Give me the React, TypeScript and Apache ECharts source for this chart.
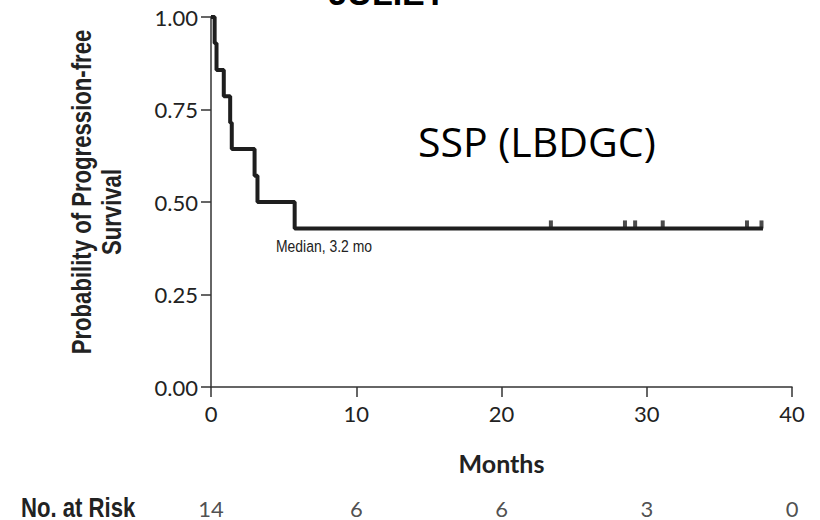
import React, { useEffect, useRef } from "react";
import * as echarts from "echarts";

// Kaplan-Meier steps (months, survival probability)
const kmTimes = [0, 0.25, 0.38, 0.88, 1.32, 1.43, 3.0, 3.2, 5.76, 38.0];
const kmSurvival = [1.0, 0.929, 0.857, 0.786, 0.714, 0.643, 0.571, 0.5, 0.4286, 0.4286];
// censored observations
const censorTimes = [23.4, 28.5, 29.2, 31.1, 36.9, 37.9];
const censorSurvival = [0.4286, 0.4286, 0.4286, 0.4286, 0.4286, 0.4286];
// number at risk table
const riskMonths = [0, 10, 20, 30, 40];
const riskCounts = [14, 6, 6, 3, 0];
const xTicks = [0, 10, 20, 30, 40];
const yTicks = [0, 0.25, 0.5, 0.75, 1.0];

const LATO = "Lato, 'Liberation Sans', sans-serif";
const LIB = "'Liberation Sans', Arial, sans-serif";
const NARROW_SCALE = 0.82;

export default function App() {
  const ref = useRef<HTMLDivElement>(null);
  useEffect(() => {
    if (!ref.current) return;
    const chart = echarts.init(ref.current, undefined, { renderer: "svg" });
    const axisColor = "#333";
    chart.setOption({
      animation: false,
      backgroundColor: "#fff",
      grid: [
        { left: 211, right: 28, top: 17, bottom: 133 },
        { left: 211, right: 28, top: 498, height: 20 },
      ],
      xAxis: [
        {
          type: "value",
          gridIndex: 0,
          min: xTicks[0],
          max: xTicks[xTicks.length - 1],
          interval: 10,
          axisLine: { show: true, onZero: false, lineStyle: { color: axisColor, width: 1.5 } },
          axisTick: { show: true, length: 10, lineStyle: { color: axisColor, width: 1.5 } },
          splitLine: { show: false },
          axisLabel: { fontFamily: LATO, fontSize: 22, color: "#222", margin: 15 },
          name: "Months",
          nameLocation: "middle",
          nameGap: 63,
          nameTextStyle: { fontFamily: LATO, fontSize: 25, fontWeight: "bold", color: "#222" },
        },
        {
          type: "value",
          gridIndex: 1,
          min: 0,
          max: 40,
          show: false,
        },
      ],
      yAxis: [
        {
          type: "value",
          gridIndex: 0,
          min: yTicks[0],
          max: yTicks[yTicks.length - 1],
          interval: 0.25,
          axisLine: { show: true, lineStyle: { color: axisColor, width: 1.5 } },
          axisTick: { show: true, length: 10, lineStyle: { color: axisColor, width: 1.5 } },
          splitLine: { show: false },
          axisLabel: {
            fontFamily: LATO,
            fontSize: 22,
            color: "#222",
            margin: 13,
            formatter: (v: number) => v.toFixed(2),
          },
        },
        { type: "value", gridIndex: 1, min: -1, max: 1, show: false },
      ],
      series: [
        {
          type: "line",
          xAxisIndex: 0,
          yAxisIndex: 0,
          step: "end",
          data: kmTimes.map((t, i) => [t, kmSurvival[i]]),
          showSymbol: false,
          lineStyle: { color: "#1e1e1e", width: 4 },
          z: 3,
        },
        {
          type: "scatter",
          xAxisIndex: 0,
          yAxisIndex: 0,
          data: censorTimes.map((t, i) => [t, censorSurvival[i]]),
          symbol: "rect",
          symbolSize: [4, 8],
          symbolOffset: [0, -4],
          itemStyle: { color: "#1e1e1e" },
          z: 4,
        },
        {
          type: "scatter",
          xAxisIndex: 1,
          yAxisIndex: 1,
          data: riskMonths.map((m, i) => [m, 0, riskCounts[i]]),
          symbolSize: 0,
          label: {
            show: true,
            position: "inside",
            formatter: (p: any) => String(p.value[2]),
            fontFamily: LATO,
            fontSize: 22,
            color: "#222",
          },
        },
      ],
      graphic: [
        {
          type: "text",
          x: 387,
          y: -24,
          style: {
            text: "JULIET",
            fontFamily: LIB,
            fontWeight: "bold",
            fontSize: 34,
            fill: "#000",
            align: "center",
            verticalAlign: "top",
          },
        },
        {
          type: "text",
          x: 418,
          y: 141,
          style: {
            text: "SSP (LBDGC)",
            fontFamily: "'Open Sans', 'Noto Sans', sans-serif",
            fontSize: 41,
            fill: "#000",
            align: "left",
            verticalAlign: "middle",
          },
        },
        {
          type: "text",
          x: 276,
          y: 246,
          scaleX: NARROW_SCALE,
          style: {
            text: "Median, 3.2 mo",
            fontFamily: LIB,
            fontSize: 17,
            fill: "#222",
            align: "left",
            verticalAlign: "middle",
          },
        },
        {
          type: "text",
          x: 82,
          y: 192,
          rotation: Math.PI / 2,
          scaleX: NARROW_SCALE,
          style: {
            text: "Probability of Progression-free",
            fontFamily: LIB,
            fontWeight: "bold",
            fontSize: 27,
            fill: "#222",
            align: "center",
            verticalAlign: "middle",
          },
        },
        {
          type: "text",
          x: 112,
          y: 212,
          rotation: Math.PI / 2,
          scaleX: NARROW_SCALE,
          style: {
            text: "Survival",
            fontFamily: LIB,
            fontWeight: "bold",
            fontSize: 27,
            fill: "#222",
            align: "center",
            verticalAlign: "middle",
          },
        },
        {
          type: "text",
          x: 21,
          y: 508,
          scaleX: NARROW_SCALE,
          style: {
            text: "No. at Risk",
            fontFamily: LIB,
            fontWeight: "bold",
            fontSize: 27,
            lineHeight: 22,
            fill: "#222",
            align: "left",
            verticalAlign: "middle",
          },
        },
      ],
    });
    return () => chart.dispose();
  }, []);
  return <div ref={ref} style={{ width: 820, height: 520, position: "absolute", left: 0, top: 0 }} />;
}
